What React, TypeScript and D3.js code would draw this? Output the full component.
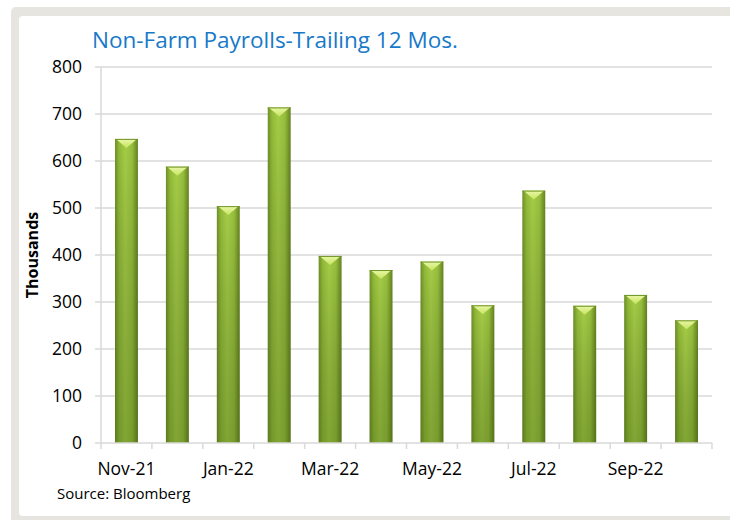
import { useEffect, useRef } from 'react';
import * as d3 from 'd3';

const months = ['Nov-21', 'Dec-21', 'Jan-22', 'Feb-22', 'Mar-22', 'Apr-22', 'May-22', 'Jun-22', 'Jul-22', 'Aug-22', 'Sep-22', 'Oct-22'];
const payrolls = [647, 588, 504, 714, 398, 368, 386, 293, 537, 292, 315, 261];
const yTicks = [0, 100, 200, 300, 400, 500, 600, 700, 800];
const shownLabels = ['Nov-21', 'Jan-22', 'Mar-22', 'May-22', 'Jul-22', 'Sep-22'];

export default function App() {
  const ref = useRef<SVGSVGElement>(null);

  useEffect(() => {
    document.body.style.margin = '0';
    if (!ref.current) return;
    const svg = d3.select(ref.current);
    svg.selectAll('*').remove();

    const W = 730, H = 520;
    const font = '"Open Sans", "Liberation Sans", Arial, sans-serif';

    // cadre gris + fond blanc
    svg.append('rect').attr('x', 11).attr('y', 7).attr('width', W).attr('height', H).attr('rx', 5).attr('fill', '#e7e5e0');
    svg.append('rect').attr('x', 19).attr('y', 16).attr('width', W).attr('height', 500).attr('rx', 4).attr('fill', '#ffffff');

    const defs = svg.append('defs');
    const g1 = defs.append('linearGradient').attr('id', 'barH').attr('x1', '0').attr('x2', '1').attr('y1', '0').attr('y2', '0');
    [
      ['0%', '#6e8f28'], ['18%', '#92ba38'], ['45%', '#a5cd47'], ['75%', '#97bf3d'], ['100%', '#64821f']
    ].forEach(([o, c]) => g1.append('stop').attr('offset', o).attr('stop-color', c));
    const g2 = defs.append('linearGradient').attr('id', 'barV').attr('x1', '0').attr('x2', '0').attr('y1', '0').attr('y2', '1');
    g2.append('stop').attr('offset', '0%').attr('stop-color', '#000').attr('stop-opacity', 0);
    g2.append('stop').attr('offset', '100%').attr('stop-color', '#2f4a08').attr('stop-opacity', 0.3);
    const g3 = defs.append('linearGradient').attr('id', 'barTop').attr('x1', '0').attr('x2', '0').attr('y1', '0').attr('y2', '1');
    g3.append('stop').attr('offset', '0%').attr('stop-color', '#eaf8a8');
    g3.append('stop').attr('offset', '100%').attr('stop-color', '#c6e460');

    const left = 101, right = 712, top = 67, bottom = 443;

    const x = d3.scaleBand().domain(months).range([left, right]).paddingInner(0.55).paddingOuter(0.275);
    const xb = d3.scaleBand().domain(months).range([left, right]).padding(0);
    const y = d3.scaleLinear().domain([0, 800]).range([bottom, top]);

    // grille
    svg.append('g').selectAll('line').data(yTicks.filter(d => d > 0)).enter().append('line')
      .attr('x1', left - 6).attr('x2', right)
      .attr('y1', d => y(d)).attr('y2', d => y(d))
      .attr('stroke', '#d9d9d9').attr('stroke-width', 1.5);

    // axe Y
    svg.append('line').attr('x1', left).attr('x2', left).attr('y1', top).attr('y2', bottom)
      .attr('stroke', '#d9d9d9').attr('stroke-width', 1.5);

    svg.append('g').selectAll('text').data(yTicks).enter().append('text')
      .attr('x', 82).attr('y', d => y(d) + 6)
      .attr('text-anchor', 'end')
      .style('font-family', font).style('font-size', '17.5px').attr('fill', '#000')
      .text(d => d);

    // barres
    const bars = svg.append('g').selectAll('g').data(payrolls).enter().append('g');
    bars.append('rect')
      .attr('x', (d, i) => x(months[i]) || 0)
      .attr('y', d => y(d))
      .attr('width', x.bandwidth())
      .attr('height', d => bottom - y(d))
      .attr('fill', 'url(#barH)');
    bars.append('rect')
      .attr('x', (d, i) => x(months[i]) || 0)
      .attr('y', d => y(d))
      .attr('width', x.bandwidth())
      .attr('height', d => bottom - y(d))
      .attr('fill', 'url(#barV)');
    bars.append('path')
      .attr('d', (d, i) => {
        const x0 = x(months[i]) || 0;
        const bw = x.bandwidth();
        const t = y(d);
        return `M${x0 + 1},${t}L${x0 + bw - 1},${t}L${x0 + bw / 2},${t + 9}Z`;
      })
      .attr('fill', 'url(#barTop)');
    bars.append('line')
      .attr('x1', (d, i) => x(months[i]) || 0)
      .attr('x2', (d, i) => (x(months[i]) || 0) + x.bandwidth())
      .attr('y1', d => y(d) + 0.5).attr('y2', d => y(d) + 0.5)
      .attr('stroke', '#6f9326').attr('stroke-width', 1);

    // axe X
    svg.append('line').attr('x1', left - 6).attr('x2', right).attr('y1', bottom).attr('y2', bottom)
      .attr('stroke', '#d9d9d9').attr('stroke-width', 1.5);
    svg.append('g').selectAll('line').data(d3.range(months.length + 1)).enter().append('line')
      .attr('x1', i => left + i * xb.bandwidth()).attr('x2', i => left + i * xb.bandwidth())
      .attr('y1', bottom).attr('y2', bottom + 6)
      .attr('stroke', '#d9d9d9').attr('stroke-width', 1.5);

    svg.append('g').selectAll('text').data(shownLabels).enter().append('text')
      .attr('x', d => (x(d) || 0) + x.bandwidth() / 2)
      .attr('y', 475)
      .attr('text-anchor', 'middle')
      .style('font-family', font).style('font-size', '17.5px').attr('fill', '#000')
      .text(d => d);

    // titres
    svg.append('text').attr('x', 92).attr('y', 48)
      .style('font-family', font).style('font-size', '22.5px').attr('fill', '#1779c9')
      .text('Non-Farm Payrolls-Trailing 12 Mos.');

    svg.append('text')
      .attr('transform', `translate(38,${(top + bottom) / 2}) rotate(-90)`)
      .attr('text-anchor', 'middle')
      .style('font-family', font).style('font-size', '16px').style('font-weight', 'bold').attr('fill', '#000')
      .text('Thousands');

    svg.append('text').attr('x', 57).attr('y', 499)
      .style('font-family', font).style('font-size', '15px').attr('fill', '#000')
      .text('Source: Bloomberg');
  }, []);

  return <svg ref={ref} width={730} height={520} style={{ display: 'block' }} />;
}
